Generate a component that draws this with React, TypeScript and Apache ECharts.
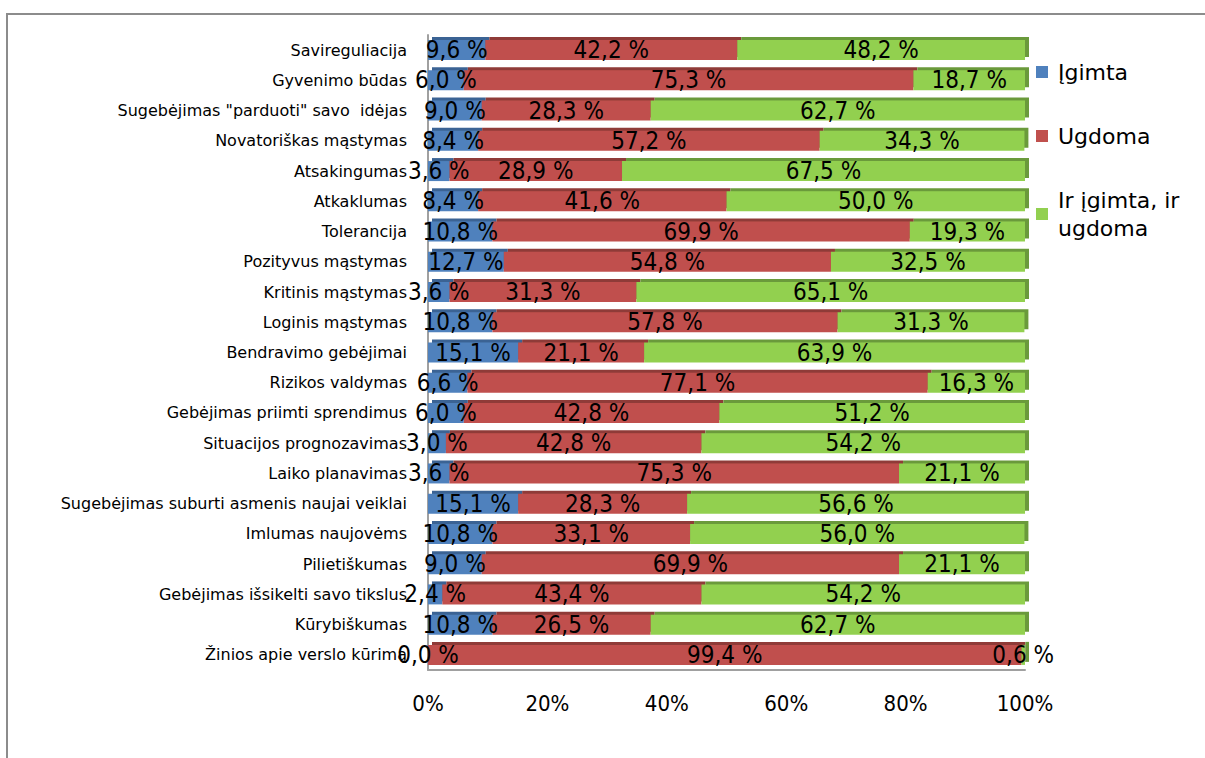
import React, { useEffect, useRef } from "react";
import * as echarts from "echarts";

const categories = [
  "Savireguliacija",
  "Gyvenimo būdas",
  "Sugebėjimas \"parduoti\" savo  idėjas",
  "Novatoriškas mąstymas",
  "Atsakingumas",
  "Atkaklumas",
  "Tolerancija",
  "Pozityvus mąstymas",
  "Kritinis mąstymas",
  "Loginis mąstymas",
  "Bendravimo gebėjimai",
  "Rizikos valdymas",
  "Gebėjimas priimti sprendimus",
  "Situacijos prognozavimas",
  "Laiko planavimas",
  "Sugebėjimas suburti asmenis naujai veiklai",
  "Imlumas naujovėms",
  "Pilietiškumas",
  "Gebėjimas išsikelti savo tikslus",
  "Kūrybiškumas",
  "Žinios apie verslo kūrimą",
];

const igimta = [9.6, 6.0, 9.0, 8.4, 3.6, 8.4, 10.8, 12.7, 3.6, 10.8, 15.1, 6.6, 6.0, 3.0, 3.6, 15.1, 10.8, 9.0, 2.4, 10.8, 0.0];
const ugdoma = [42.2, 75.3, 28.3, 57.2, 28.9, 41.6, 69.9, 54.8, 31.3, 57.8, 21.1, 77.1, 42.8, 42.8, 75.3, 28.3, 33.1, 69.9, 43.4, 26.5, 99.4];
const abu = [48.2, 18.7, 62.7, 34.3, 67.5, 50.0, 19.3, 32.5, 65.1, 31.3, 63.9, 16.3, 51.2, 54.2, 21.1, 56.6, 56.0, 21.1, 54.2, 62.7, 0.6];

const seriesNames = ["Įgimta", "Ugdoma", "Ir įgimta, ir ugdoma"];
const xTicks = [0, 20, 40, 60, 80, 100];

const LABEL_FONT = "'DejaVu Sans Condensed', 'Liberation Sans Narrow', 'DejaVu Sans', sans-serif";
const TEXT_FONT = "'DejaVu Sans', sans-serif";

export default function App() {
  const ref = useRef<HTMLDivElement>(null);
  useEffect(() => {
    if (!ref.current) return;
    const chart = echarts.init(ref.current, undefined, { renderer: "svg" });
    const fmt = (p: any) => p.value.toFixed(1).replace(".", ",") + " %";
    const mk = (name: string, data: number[], color: string, dark: string) => ({
      name,
      type: "bar",
      stack: "total",
      data,
      barWidth: 20,
      itemStyle: {
        color,
        shadowColor: dark,
        shadowOffsetX: 4,
        shadowOffsetY: -3,
        shadowBlur: 0,
      },
      label: {
        show: true,
        position: "inside",
        formatter: fmt,
        color: "#000",
        fontFamily: LABEL_FONT,
        fontSize: 24,
      },
    });
    const legendBase = {
      left: 1036,
      orient: "vertical",
      padding: 0,
      itemWidth: 12,
      itemHeight: 12,
      icon: "rect",
    };
    chart.setOption({
      animation: false,
      backgroundColor: "#fff",
      graphic: [
        {
          type: "rect",
          shape: { x: 7, y: 14, width: 1230, height: 780 },
          style: { fill: "none", stroke: "#8c8c8c", lineWidth: 2 },
          silent: true,
        },
      ],
      grid: { left: 428, right: 180, top: 35, bottom: 88 },
      legend: [
        {
          ...legendBase,
          data: [seriesNames[0]],
          top: 61,
          textStyle: { fontFamily: TEXT_FONT, fontSize: 22, color: "#000", padding: [0, 0, 0, 5] },
        },
        {
          ...legendBase,
          data: [seriesNames[1]],
          top: 125,
          textStyle: { fontFamily: TEXT_FONT, fontSize: 22, color: "#000", padding: [0, 0, 0, 5] },
        },
        {
          ...legendBase,
          data: [seriesNames[2]],
          top: 172,
          formatter: () => "Ir įgimta, ir\nugdoma",
          textStyle: {
            fontFamily: TEXT_FONT,
            fontSize: 22,
            color: "#000",
            lineHeight: 28,
            padding: [28, 0, 0, 5],
          },
        },
      ],
      xAxis: {
        type: "value",
        min: 0,
        max: 100,
        interval: 20,
        splitLine: { show: false },
        axisTick: { show: false },
        axisLine: { show: true, lineStyle: { color: "#a0a0a0", width: 2 } },
        axisLabel: {
          formatter: (v: number) => (xTicks.includes(v) ? v + "%" : ""),
          fontFamily: LABEL_FONT,
          fontSize: 22,
          color: "#000",
          margin: 22,
        },
      },
      yAxis: {
        type: "category",
        inverse: true,
        data: categories,
        axisTick: { show: false },
        axisLine: { show: true, lineStyle: { color: "#a0a0a0", width: 2 } },
        axisLabel: {
          fontFamily: TEXT_FONT,
          fontSize: 16,
          color: "#000",
          margin: 21,
        },
      },
      series: [
        mk(seriesNames[0], igimta, "#4F81BD", "#3b6494"),
        mk(seriesNames[1], ugdoma, "#C0504D", "#8f3b39"),
        mk(seriesNames[2], abu, "#92D050", "#6a9a3a"),
      ],
    });
    return () => chart.dispose();
  }, []);
  return (
    <div
      ref={ref}
      style={{ position: "fixed", left: 0, top: 0, width: 1205, height: 758 }}
    />
  );
}
